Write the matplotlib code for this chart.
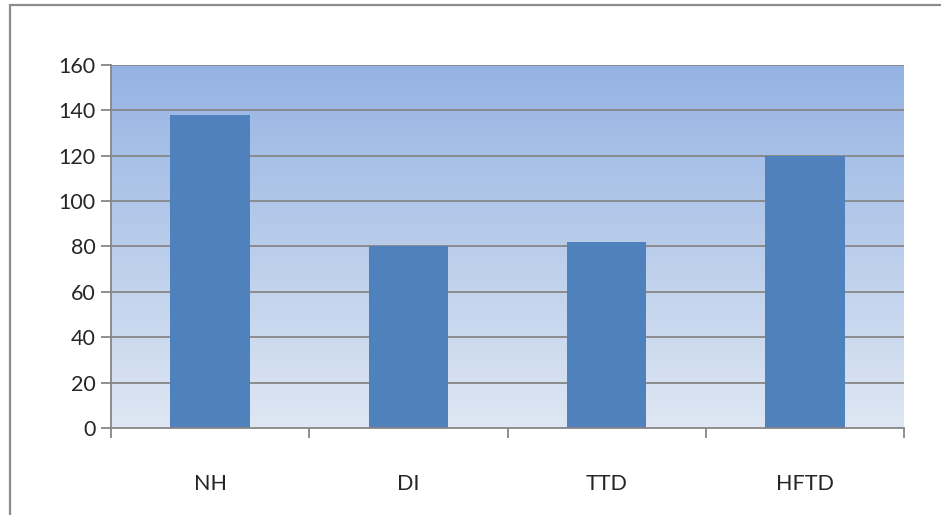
import numpy as np
import matplotlib.pyplot as plt
from matplotlib.patches import Rectangle

categories = ['NH', 'DI', 'TTD', 'HFTD']
values = [138, 80, 82, 120]
yticks = [0, 20, 40, 60, 80, 100, 120, 140, 160]

plt.rcParams['font.family'] = ['Lato', 'DejaVu Sans']

fig = plt.figure(figsize=(9.41, 5.15), dpi=100)
fig.patch.set_facecolor('white')

# outer chart border
fig.patches.append(Rectangle((10 / 941, -0.2), 1.0, 1.2 - 5 / 515,
                             transform=fig.transFigure, fill=False,
                             edgecolor='#8c8c8c', linewidth=1.6))

ax = fig.add_axes([111 / 941, 87 / 515, 793 / 941, 363 / 515])

# gradient background of plot area
grad = np.linspace(0, 1, 256).reshape(-1, 1)
top = np.array([149, 179, 227]) / 255
bottom = np.array([222, 231, 243]) / 255
img = bottom + (top - bottom) * grad
img = np.repeat(img[:, None, :], 2, axis=1)
ax.imshow(img, extent=[-0.5, 3.5, 0, 160], origin='lower', aspect='auto', zorder=0)

x = np.arange(len(categories))
ax.set_yticks(yticks)
for y in yticks[1:]:
    ax.axhline(y, color='#868686', linewidth=1.3, zorder=1)
ax.bar(x, values, width=0.4, color='#4f81bd', zorder=2)

ax.set_xlim(-0.5, 3.5)
ax.set_ylim(0, 160)

for s in ['top', 'right']:
    ax.spines[s].set_visible(False)
ax.spines['left'].set_color('#868686')
ax.spines['bottom'].set_color('#868686')
ax.spines['left'].set_linewidth(1.3)
ax.spines['bottom'].set_linewidth(1.3)

ax.set_xticks(x)
ax.set_xticklabels(categories)
ax.set_xticks(np.arange(-0.5, 4.0, 1.0), minor=True)
ax.tick_params(axis='x', which='major', length=0, pad=33, labelsize=15.5, colors='#262626')
ax.tick_params(axis='x', which='minor', length=7, width=1.3, color='#868686', direction='out')
ax.tick_params(axis='y', length=7, width=1.3, color='#868686', pad=4, labelsize=15.5, labelcolor='#262626')

fig.savefig('out.png', dpi=100)
